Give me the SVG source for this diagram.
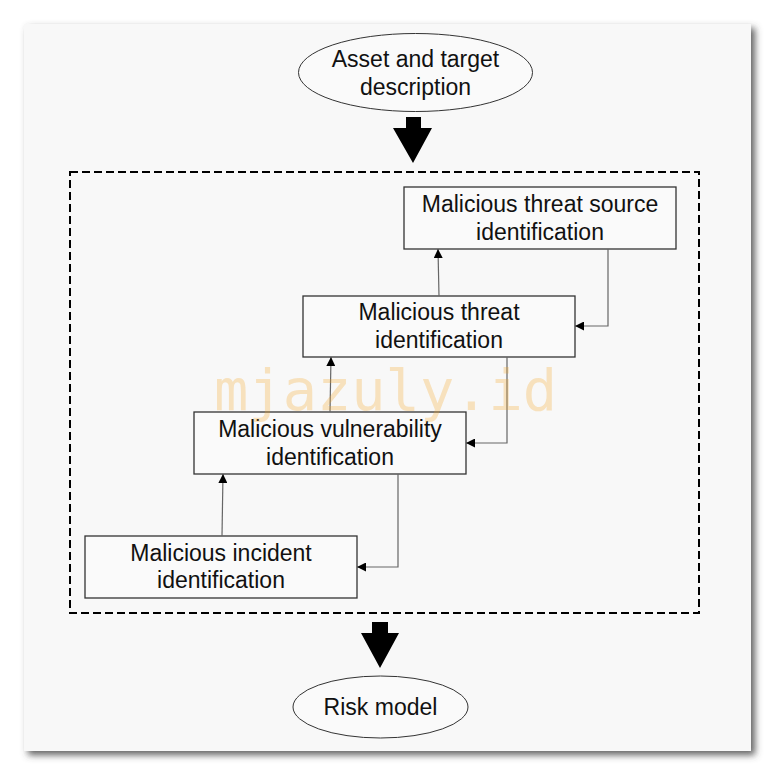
<svg xmlns="http://www.w3.org/2000/svg" width="776" height="777" viewBox="0 0 776 777">
<style>
.t{font-family:"Liberation Sans",Arial,sans-serif;font-size:23px;fill:#111;text-anchor:middle}
.box{fill:#fafafa;stroke:#333;stroke-width:1.3}
.ell{fill:#fafafa;stroke:#333;stroke-width:1}
.ln{fill:none;stroke:#666;stroke-width:1.2}
.big{fill:#000}
</style>
<defs>
<filter id="sh" x="-5%" y="-5%" width="112%" height="112%">
<feDropShadow dx="4" dy="4" stdDeviation="3.5" flood-color="#444" flood-opacity="0.85"/>
</filter>
<marker id="ah" viewBox="0 0 10 10" refX="10" refY="5" markerWidth="9" markerHeight="9" markerUnits="userSpaceOnUse" orient="auto">
<path d="M0,0 L10,5 L0,10 z" fill="#000"/>
</marker>
</defs>
<rect width="776" height="777" fill="#fff"/>
<rect x="24" y="24" width="727" height="727" fill="#f8f8f8" filter="url(#sh)"/>
<rect x="70" y="172" width="629" height="441" fill="none" stroke="#000" stroke-width="2" stroke-dasharray="8,4"/>

<g id="asset">
<ellipse class="ell" cx="415.5" cy="72.5" rx="117" ry="39"/>
<text class="t" x="415.5" y="67">Asset and target</text>
<text class="t" x="415.5" y="95">description</text>
</g>
<g id="source">
<rect class="box" x="404" y="187" width="272" height="62"/>
<text class="t" x="540" y="212">Malicious threat source</text>
<text class="t" x="540" y="240">identification</text>
</g>
<g id="threat">
<rect class="box" x="303" y="296" width="272" height="61"/>
<text class="t" x="439" y="320">Malicious threat</text>
<text class="t" x="439" y="348">identification</text>
</g>
<g id="vuln">
<rect class="box" x="194" y="412" width="272" height="62"/>
<text class="t" x="330" y="437">Malicious vulnerability</text>
<text class="t" x="330" y="465">identification</text>
</g>
<g id="incident">
<rect class="box" x="85" y="536" width="272" height="62"/>
<text class="t" x="221" y="561">Malicious incident</text>
<text class="t" x="221" y="588">identification</text>
</g>
<g id="risk">
<ellipse class="ell" cx="380.5" cy="707" rx="87.5" ry="31"/>
<text class="t" x="380.5" y="715">Risk model</text>
</g>

<g id="connectors">
<path class="big" d="M406,117 H421 V128 H432 L413,163 L393,128 H406 Z"/>
<path class="big" d="M372,622 H388 V633 H399 L380,668 L361,633 H372 Z"/>
<path class="ln" d="M608,249 V326 H575" marker-end="url(#ah)"/>
<path class="ln" d="M439,296 L438,249" marker-end="url(#ah)"/>
<path class="ln" d="M507,357 V443 H466" marker-end="url(#ah)"/>
<path class="ln" d="M330,412 L331,357" marker-end="url(#ah)"/>
<path class="ln" d="M398,474 V567 H357" marker-end="url(#ah)"/>
<path class="ln" d="M222,536 L223,474" marker-end="url(#ah)"/>
</g>
<text x="214" y="410" font-family="DejaVu Sans Mono,monospace" font-size="57" fill="#f5a623" fill-opacity="0.28">mjazuly.id</text>
</svg>
